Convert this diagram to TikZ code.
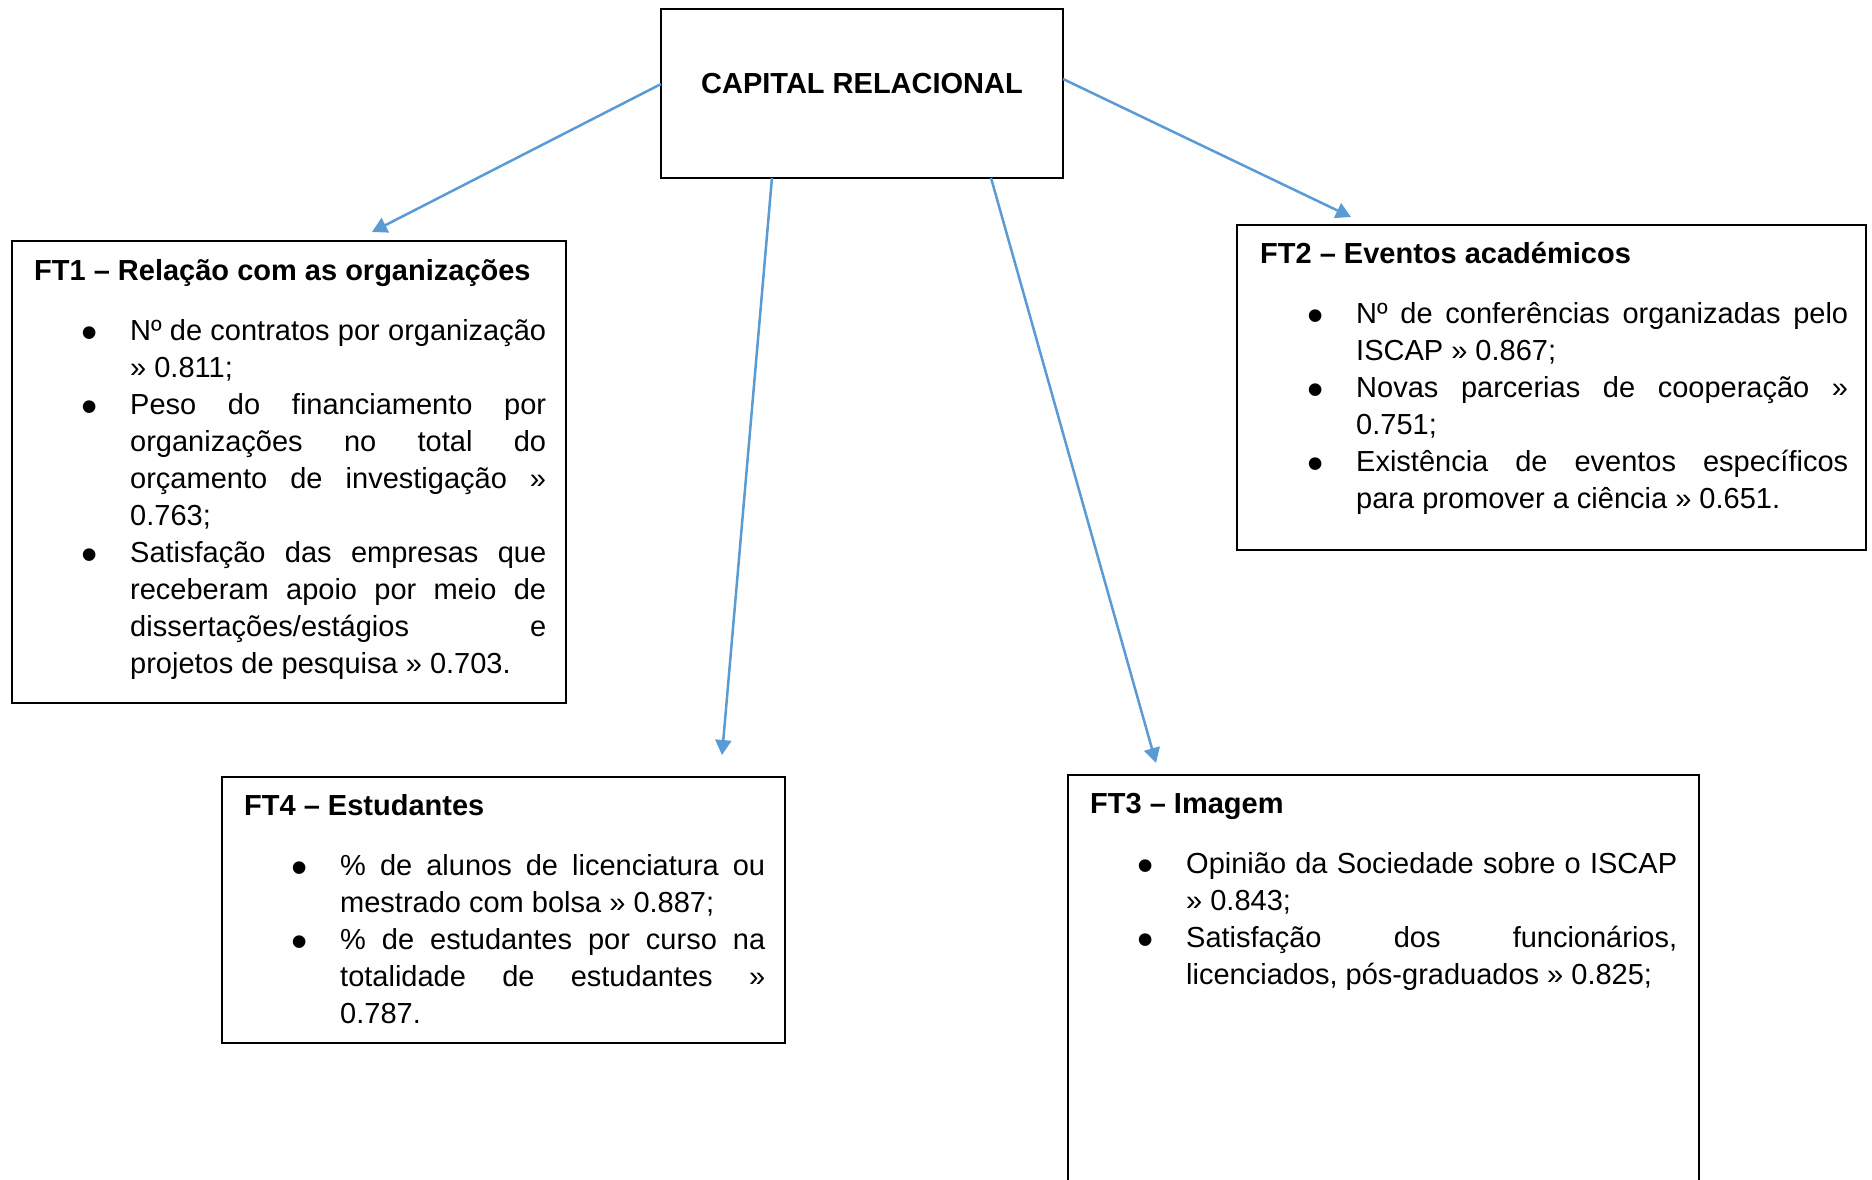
\documentclass[tikz,border=0pt]{standalone}
\usepackage{fontspec}
\setmainfont{Liberation Sans}
\usetikzlibrary{arrows.meta,calc}
\definecolor{linkblue}{HTML}{5B9BD5}

% bullet centred on the current point
\newcommand\blt{\makebox[0pt]{\raisebox{-8.5pt}{\scalebox{1.6}{\textbullet}}}}
% justified indented line, with a bullet in the margin
\newcommand\bitem[1]{\hbox to\hsize{\hskip96pt\relax\llap{\blt\hskip41pt}#1}}
% justified indented continuation line
\newcommand\jline[1]{\hbox to\hsize{\hskip96pt\relax#1}}
% last line of an item, set ragged
\newcommand\lline[1]{\hbox to\hsize{\hskip96pt\relax#1\hfil}}
% box heading, followed by the gap before the list
\newcommand\heading[1]{\hbox{\bfseries#1}\vskip23pt}

\begin{document}
\begin{tikzpicture}[x=1pt,y=-1pt,
  box/.style={draw=black, line width=2.7pt, rectangle, inner sep=0pt,
              outer sep=0pt, anchor=north west},
  txt/.style={inner sep=0pt, anchor=base west,
              font=\fontsize{29}{37}\selectfont},
  link/.style={draw=linkblue, line width=2.5pt,
               -{Triangle[length=15pt,width=16pt]}}]

\useasboundingbox (0,0) rectangle (1872,1179);
\clip (0,0) rectangle (1872,1179);
\fill[white] (0,0) rectangle (1872,1179);

% central concept
\node[box, minimum width=402pt, minimum height=169pt] (cap) at (661,9) {};
\node[txt, anchor=base, font=\fontsize{29}{37}\selectfont\bfseries]
  (captitle) at (862,93) {CAPITAL RELACIONAL};

% FT1
\node[box, minimum width=554pt, minimum height=462pt] (ft1) at (12,241) {};
\node[txt] (ft1text) at (34,280) {\vtop{\hsize=512pt
  \heading{FT1 – Relação com as organizações}
  \bitem{Nº de contratos por organização}
  \lline{» 0.811;}
  \bitem{Peso do financiamento por}
  \jline{organizações no total do}
  \jline{orçamento de investigação »}
  \lline{0.763;}
  \bitem{Satisfação das empresas que}
  \jline{receberam apoio por meio de}
  \jline{dissertações/estágios e}
  \lline{projetos de pesquisa » 0.703.}}};

% FT2
\node[box, minimum width=629pt, minimum height=325pt] (ft2) at (1237,225) {};
\node[txt] (ft2text) at (1260,263) {\vtop{\hsize=588pt
  \heading{FT2 – Eventos académicos}
  \bitem{Nº de conferências organizadas pelo}
  \lline{ISCAP » 0.867;}
  \bitem{Novas parcerias de cooperação »}
  \lline{0.751;}
  \bitem{Existência de eventos específicos}
  \lline{para promover a ciência » 0.651.}}};

% FT4
\node[box, minimum width=563pt, minimum height=266pt] (ft4) at (222,777) {};
\node[txt] (ft4text) at (244,815) {\vtop{\hsize=521pt
  \heading{FT4 – Estudantes}
  \bitem{\% de alunos de licenciatura ou}
  \lline{mestrado com bolsa » 0.887;}
  \bitem{\% de estudantes por curso na}
  \jline{totalidade de estudantes »}
  \lline{0.787.}}};

% FT3
\node[box, minimum width=631pt, minimum height=450pt] (ft3) at (1068,775) {};
\node[txt] (ft3text) at (1090,813) {\vtop{\hsize=587pt
  \heading{FT3 – Imagem}
  \bitem{Opinião da Sociedade sobre o ISCAP}
  \lline{» 0.843;}
  \bitem{Satisfação dos funcionários,}
  \lline{licenciados, pós-graduados » 0.825;}}};

% arrow ends, just short of each factor box
\coordinate (t1) at (372,232);
\coordinate (t2) at (1351,217);
\coordinate (t4) at (722,755);
\coordinate (t3) at (1156,763);

\draw[link] ($(cap.north west)!0.444!(cap.south west)$) -- (t1);
\draw[link] ($(cap.north east)!0.414!(cap.south east)$) -- (t2);
\draw[link] ($(cap.south west)!0.276!(cap.south east)$) -- (t4);
\draw[link] ($(cap.south west)!0.821!(cap.south east)$) -- (t3);
\end{tikzpicture}
\end{document}
